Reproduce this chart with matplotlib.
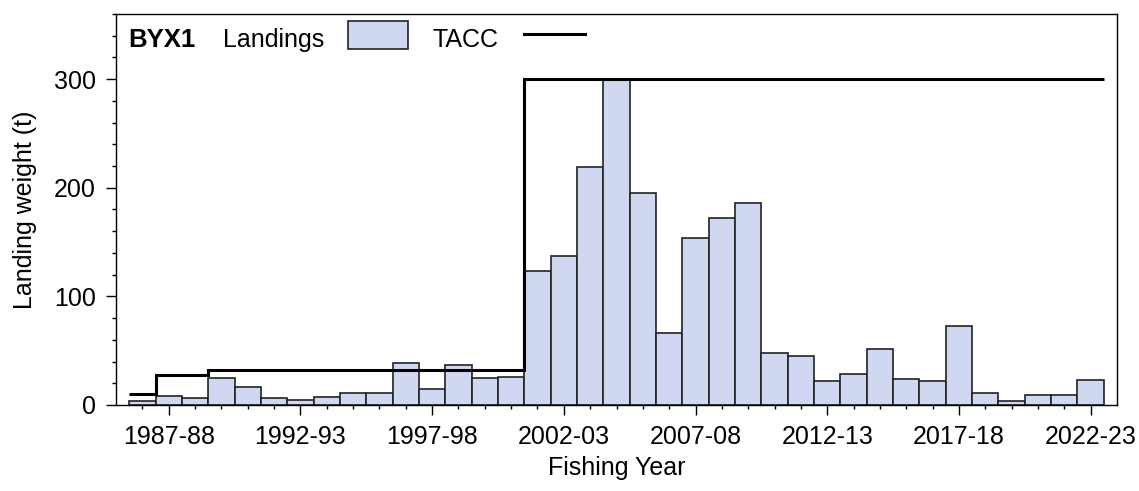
import numpy as np
import matplotlib
matplotlib.use("Agg")
import matplotlib.pyplot as plt
from matplotlib.patches import Rectangle
from matplotlib.lines import Line2D
from matplotlib.ticker import MultipleLocator, FixedLocator

plt.rcParams['font.family'] = ['Liberation Sans', 'DejaVu Sans']

years = [f"{y}-{str(y + 1)[-2:]}" for y in range(1986, 2023)]
landings = [4, 8, 6, 25, 17, 6, 5, 7, 11, 11, 39, 15, 37, 25, 26,
            123, 137, 219, 300, 195, 66, 154, 172, 186, 48, 45,
            22, 29, 52, 24, 22, 73, 11, 3.5, 9, 9, 23]
tacc = [10, 28, 28] + [32] * 12 + [300] * 22
tick_labels = ["1987-88", "1992-93", "1997-98", "2002-03",
               "2007-08", "2012-13", "2017-18", "2022-23"]

W, H = 1139, 491
fig = plt.figure(figsize=(W / 100, H / 100), dpi=100)
ax = fig.add_axes([116 / W, 1 - 405 / H, (1117 - 116) / W, (405 - 14) / H])

x = np.arange(len(years))
ax.bar(x, landings, width=1.0, color='#cfd8f0', edgecolor='#222222', linewidth=1.2, zorder=2)
edges = np.arange(len(years) + 1) - 0.5
ax.stairs(tacc, edges, baseline=None, color='black', linewidth=2.2, zorder=3)

ax.set_xlim(-1, len(years))
ax.set_ylim(0, 360)

major_idx = [years.index(t) for t in tick_labels]
ax.xaxis.set_major_locator(FixedLocator(major_idx))
ax.set_xticklabels(tick_labels)
ax.xaxis.set_minor_locator(FixedLocator(x))
ax.yaxis.set_major_locator(FixedLocator([0, 100, 200, 300]))
ax.yaxis.set_minor_locator(MultipleLocator(20))

ax.tick_params(axis='both', which='major', direction='out', length=7.5, width=1.0,
               labelsize=18, pad=7, colors='black')
ax.tick_params(axis='both', which='minor', direction='out', length=3.2, width=1.0)
for s in ax.spines.values():
    s.set_linewidth(1.0)
    s.set_color('black')

ax.set_xlabel("Fishing Year", fontsize=18, labelpad=5)
ax.set_ylabel("Landing weight (t)", fontsize=18, labelpad=12)

def fx(px):
    return px / W

def fy(py):
    return 1 - py / H

fig.text(fx(128), fy(47), "BYX1", fontsize=18.5, fontweight='bold', va='baseline', ha='left')
fig.text(fx(223), fy(47), "Landings", fontsize=18, va='baseline', ha='left')
fig.patches.append(Rectangle((fx(348), fy(49)), fx(408) - fx(348), fy(21) - fy(49),
                             transform=fig.transFigure, facecolor='#cfd8f0',
                             edgecolor='#222222', linewidth=1.2))
fig.text(fx(432), fy(47), "TACC", fontsize=18, va='baseline', ha='left')
fig.lines.append(Line2D([fx(524), fx(585)], [fy(34), fy(34)], transform=fig.transFigure,
                        color='black', linewidth=2.2))

fig.savefig("out.png", dpi=100)
